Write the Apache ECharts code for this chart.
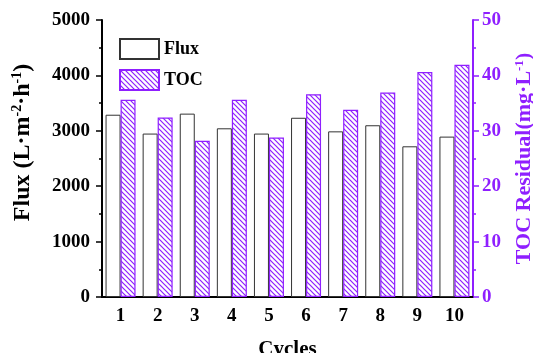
<!DOCTYPE html>
<html>
<head>
<meta charset="utf-8">
<script src="https://cdn.jsdelivr.net/npm/echarts@6/dist/echarts.min.js"></script>
<style>
  html, body { margin: 0; padding: 0; background: #fff; }
  #chart { width: 533px; height: 353px; }
</style>
</head>
<body>
<div id="chart"></div>
<script>
// 数据
const cycles = ['1', '2', '3', '4', '5', '6', '7', '8', '9', '10'];
const fluxValues = [3290, 2950, 3310, 3045, 2950, 3235, 2990, 3100, 2720, 2895];
const tocValues = [35.6, 32.4, 28.2, 35.6, 28.8, 36.6, 33.8, 36.9, 40.6, 41.9];

const purple = '#8F1FFF';
const font = 'Liberation Serif, Times New Roman, serif';

// 斜线填充
function hatch() {
    const s = 5;
    const c = document.createElement('canvas');
    c.width = s; c.height = s;
    const ctx = c.getContext('2d');
    ctx.fillStyle = '#fff';
    ctx.fillRect(0, 0, s, s);
    ctx.strokeStyle = purple;
    ctx.lineWidth = 1.2;
    ctx.beginPath();
    ctx.moveTo(-1, -1); ctx.lineTo(s + 1, s + 1);
    ctx.moveTo(s - 1, -1); ctx.lineTo(s + 1, 1);
    ctx.moveTo(-1, s - 1); ctx.lineTo(1, s + 1);
    ctx.stroke();
    return c;
}

const chart = echarts.init(document.getElementById('chart'));
const option = {
    animation: false,
    textStyle: { fontFamily: font },
    grid: { left: 102, right: 60, top: 20, bottom: 56, containLabel: false, outerBoundsMode: 'none' },
    legend: {
        orient: 'vertical',
        left: 114,
        top: 33,
        itemWidth: 39,
        itemHeight: 20,
        itemGap: 9,
        icon: 'rect',
        textStyle: { fontSize: 18, fontWeight: 'bold', color: '#000', fontFamily: font },
        data: ['Flux', 'TOC']
    },
    xAxis: [
        {
            type: 'category',
            data: cycles,
            name: 'Cycles',
            nameLocation: 'middle',
            nameGap: 42,
            nameTextStyle: { fontSize: 21, fontWeight: 'bold', color: '#000' },
            axisLine: { lineStyle: { color: '#000', width: 2 } },
            axisTick: { alignWithLabel: true, length: 6, lineStyle: { color: '#000', width: 1.5 } },
            axisLabel: { fontSize: 19, fontWeight: 'bold', color: '#000', margin: 10 }
        },
        {
            type: 'category',
            position: 'top',
            data: cycles,
            axisLine: { lineStyle: { color: '#000', width: 1.5 } },
            axisTick: { show: false },
            axisLabel: { show: false }
        }
    ],
    yAxis: [
        {
            type: 'value',
            min: 0,
            max: 5000,
            interval: 1000,
            name: '{a|Flux (L·m}{s|-2}{a|·h}{s|-1}{a|)}',
            nameLocation: 'middle',
            nameGap: 67,
            nameTextStyle: {
                padding: [0, 0, 0, 32],
                rich: {
                    a: { fontSize: 24, fontWeight: 'bold', color: '#000', fontFamily: font },
                    s: { fontSize: 14, fontWeight: 'bold', color: '#000', fontFamily: font, padding: [0, 0, 11, 0] }
                }
            },
            axisLine: { show: true, lineStyle: { color: '#000', width: 2 } },
            axisTick: { show: true, length: 6, lineStyle: { color: '#000', width: 1.5 } },
            minorTick: { show: true, splitNumber: 2, length: 3, lineStyle: { color: '#000', width: 1.5 } },
            splitLine: { show: false },
            axisLabel: { fontSize: 19, fontWeight: 'bold', color: '#000', margin: 12, formatter: v => String(v) }
        },
        {
            type: 'value',
            min: 0,
            max: 50,
            interval: 10,
            position: 'right',
            name: '{a|TOC Residual(mg·L}{s|-1}{a|)}',
            nameLocation: 'middle',
            nameGap: 40,
            nameRotate: 90,
            nameTextStyle: {
                rich: {
                    a: { fontSize: 22, fontWeight: 'bold', color: purple, fontFamily: font },
                    s: { fontSize: 13, fontWeight: 'bold', color: purple, fontFamily: font, padding: [0, 0, 10, 0] }
                }
            },
            axisLine: { show: true, lineStyle: { color: purple, width: 2 } },
            axisTick: { show: true, length: 6, lineStyle: { color: purple, width: 1.5 } },
            minorTick: { show: true, splitNumber: 2, length: 3, lineStyle: { color: purple, width: 1.5 } },
            splitLine: { show: false },
            axisLabel: { fontSize: 19, fontWeight: 'bold', color: purple, margin: 9 }
        }
    ],
    series: [
        {
            name: 'Flux',
            type: 'bar',
            data: fluxValues,
            barWidth: 15,
            barGap: '0%',
            itemStyle: { color: '#fff', borderColor: '#333', borderWidth: 1 }
        },
        {
            name: 'TOC',
            type: 'bar',
            yAxisIndex: 1,
            data: tocValues,
            barWidth: 15,
            barGap: '0%',
            itemStyle: {
                color: { image: hatch(), repeat: 'repeat' },
                borderColor: purple,
                borderWidth: 1.2
            }
        }
    ]
};
chart.setOption(option);
</script>
</body>
</html>
